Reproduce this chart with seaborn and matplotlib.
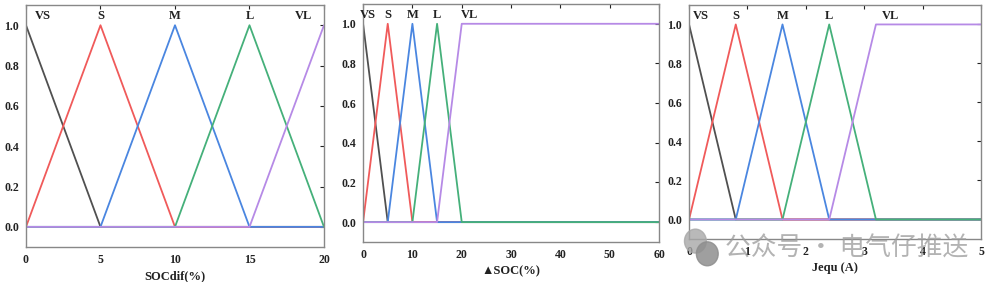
import matplotlib
matplotlib.use("Agg")
import matplotlib.pyplot as plt
import seaborn as sns
import pandas as pd
from matplotlib.patches import Ellipse

sns.set_theme(style="white")
plt.rcParams['font.family'] = ['Liberation Serif', 'DejaVu Sans']

labels = ["VS", "S", "M", "L", "VL"]
colors = ["#505050", "#f05a5a", "#4a86e0", "#45b07a", "#b68ae6"]

# Panel 1: SOCdif (%)
p1_x = [0, 5, 10, 15, 20]
p1_VS = [1, 0, 0, 0, 0]
p1_S = [0, 1, 0, 0, 0]
p1_M = [0, 0, 1, 0, 0]
p1_L = [0, 0, 0, 1, 0]
p1_VL = [0, 0, 0, 0, 1]
p1_label_x = [1.1, 5, 10, 15, 18.6]

# Panel 2: ▲SOC (%)
p2_x = [0, 5, 10, 15, 20, 60]
p2_VS = [1, 0, 0, 0, 0, 0]
p2_S = [0, 1, 0, 0, 0, 0]
p2_M = [0, 0, 1, 0, 0, 0]
p2_L = [0, 0, 0, 1, 0, 0]
p2_VL = [0, 0, 0, 0, 1, 1]
p2_label_x = [1.0, 5, 10, 15, 21.5]

# Panel 3: Jequ (A)
p3_x = [0, 0.8, 1.6, 2.4, 3.2, 5]
p3_VS = [1, 0, 0, 0, 0, 0]
p3_S = [0, 1, 0, 0, 0, 0]
p3_M = [0, 0, 1, 0, 0, 0]
p3_L = [0, 0, 0, 1, 0, 0]
p3_VL = [0, 0, 0, 0, 1, 1]
p3_label_x = [0.2, 0.8, 1.6, 2.4, 3.45]

panels = [
    dict(x=p1_x, series=[p1_VS, p1_S, p1_M, p1_L, p1_VL], lx=p1_label_x,
         xlim=(0, 20), xticks=[0, 5, 10, 15, 20], xlabel="SOCdif(%)",
         pos=[0.0262, 0.124, 0.3004, 0.858]),
    dict(x=p2_x, series=[p2_VS, p2_S, p2_M, p2_L, p2_VL], lx=p2_label_x,
         xlim=(0, 60), xticks=[0, 10, 20, 30, 40, 50, 60], xlabel="▲SOC(%)",
         pos=[0.366, 0.142, 0.2984, 0.844]),
    dict(x=p3_x, series=[p3_VS, p3_S, p3_M, p3_L, p3_VL], lx=p3_label_x,
         xlim=(0, 5), xticks=[0, 1, 2, 3, 4, 5], xlabel="Jequ (A)",
         pos=[0.6946, 0.1525, 0.2944, 0.83]),
]

fig = plt.figure(figsize=(9.92, 2.82), dpi=100)
for p in panels:
    ax = fig.add_axes(p["pos"])
    for name, ys, c in zip(labels, p["series"], colors):
        df = pd.DataFrame({"x": p["x"], "y": ys})
        sns.lineplot(data=df, x="x", y="y", color=c, lw=1.3, ax=ax,
                     estimator=None, sort=False)
    for name, lxv in zip(labels, p["lx"]):
        ax.text(lxv, 1.045, name, ha="center", va="center", fontsize=9,
                fontweight="bold", color="#222222")
    ax.set_xlim(*p["xlim"])
    ax.set_ylim(-0.1, 1.1)
    ax.set_xticks(p["xticks"])
    ax.set_yticks([0, 0.2, 0.4, 0.6, 0.8, 1.0])
    ax.set_yticklabels(["0.0", "0.2", "0.4", "0.6", "0.8", "1.0"])
    ax.set_xlabel(p["xlabel"], fontsize=9, fontweight="bold", labelpad=3,
                  color="#222222")
    ax.set_ylabel("")
    ax.tick_params(direction="in", top=True, right=True, length=3, width=0.8,
                   labelsize=8.5, colors="#222222", pad=5)
    for lab in ax.get_xticklabels() + ax.get_yticklabels():
        lab.set_fontweight("bold")
    for s in ax.spines.values():
        s.set_color("#888888")
        s.set_linewidth(1.0)

# Watermark
fig.text(0.731, 0.12, "公众号 · 电气仔推送", fontsize=18.5,
         family=["Noto Sans CJK SC", "DejaVu Sans"], color="#9a9a9a",
         alpha=0.75, ha="left", va="center")
fig.patches.append(Ellipse((0.701, 0.145), 0.022, 0.085, transform=fig.transFigure,
                           color="#a8a8a8", alpha=0.8))
fig.patches.append(Ellipse((0.713, 0.1), 0.022, 0.085, transform=fig.transFigure,
                           color="#8e8e8e", alpha=0.85))

fig.savefig("out.png", dpi=100)
